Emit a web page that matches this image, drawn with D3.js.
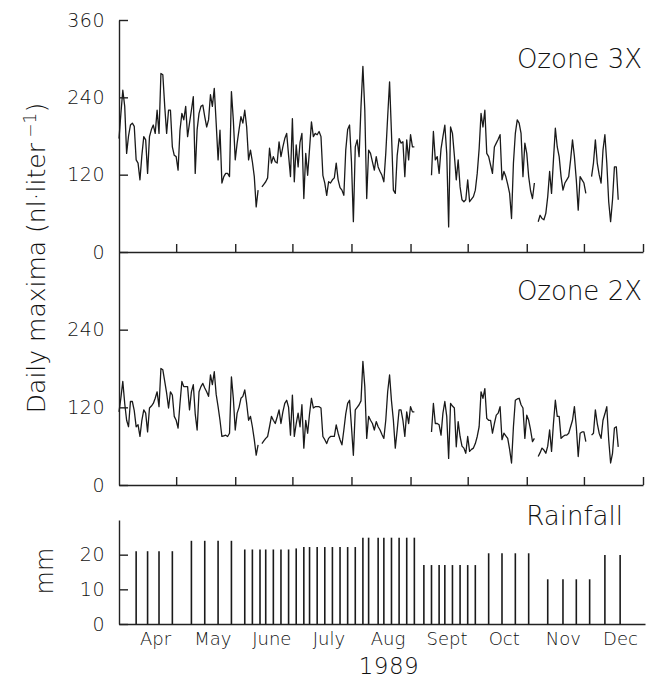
<!DOCTYPE html>
<html>
<head>
<meta charset="utf-8" />
<script src="https://d3js.org/d3.v7.min.js"></script>
<style>
  body { margin: 0; background: #fff; }
  svg text { font-family: "DejaVu Sans", sans-serif; font-weight: 200; fill: #111; }
  .axis path, .axis line { stroke: #222; stroke-width: 1.4; }
</style>
</head>
<body>
<script>
  // daily maxima, one value per day from April 1, 1989 (null = no data)
  var startDate = "1989-04-01";

  var ozone3x = [
    176, 215, 251, 226, 153, 180, 197, 200, 195, 143,
    138, 112, 150, 179, 174, 122, 179, 190, 197, 184,
    220, 184, 277, 275, 226, 184, 220, 220, 163, 150,
    148, 127, 189, 215, 205, 226, 179, 200, 220, 241,
    122, 190, 215, 226, 228, 210, 194, 205, 244, 226,
    254, 200, 143, 189, 107, 117, 122, 122, 117, 249,
    205, 143, 169, 190, 210, 200, 220, 194, 143, 158,
    140, 117, 70, 96, null, 101, 105, 109, 115, 161,
    138, 148, 140, 138, 171, 148, 163, 176, 184, 150,
    117, 207, 109, 166, 132, 170, 184, 83, 153, 119,
    160, 202, 179, 184, 182, 187, 179, 119, 107, 88,
    109, 107, 112, 115, 138, 112, 100, 96, 88, 158,
    190, 197, 140, 47, 163, 174, 148, 226, 288, 220,
    83, 158, 153, 140, 127, 148, 132, 125, 119, 109,
    153, 210, 264, 184, 96, 91, 150, 176, 169, 171,
    117, 174, 143, 182, 163, 163, null, null, null, null,
    null, null, null, null, 119, 187, 143, 148, 122, 160,
    179, 197, 153, 39, 194, 184, 150, 112, 143, 101,
    81, 78, 81, 112, 78, 82, 86, 96, 122, 160,
    215, 194, 220, 153, 148, 135, 122, 163, 169, 175,
    182, 112, 125, 117, 105, 91, 52, 138, 184, 205,
    200, 184, 117, 169, 153, 117, 95, 83, 107, null,
    47, 57, 52, 50, 60, 86, 125, 91, 143, 192,
    163, 148, 117, 96, 107, 112, 117, 143, 174, 148,
    112, 65, 117, 112, 107, 91, null, null, 117, 138,
    174, 138, 120, 107, 158, 182, 138, 78, 47, 81,
    132, 132, 81
  ];

  var ozone2x = [
    113, 135, 160, 126, 100, 90, 129, 129, 115, 90,
    93, 75, 100, 116, 111, 82, 119, 122, 126, 134,
    144, 121, 180, 178, 160, 142, 119, 144, 139, 106,
    100, 88, 126, 160, 152, 152, 152, 116, 144, 155,
    110, 85, 144, 152, 157, 150, 144, 137, 170, 155,
    175, 140, 121, 100, 75, 76, 77, 75, 80, 167,
    134, 85, 111, 120, 134, 137, 147, 126, 100, 106,
    90, 70, 46, 62, null, 64, 68, 72, 75, 90,
    106, 100, 95, 105, 116, 95, 113, 126, 131, 120,
    77, 139, 75, 95, 111, 90, 124, 57, 100, 80,
    110, 134, 119, 121, 121, 121, 119, 75, 70, 64,
    72, 75, 75, 75, 93, 80, 70, 62, 85, 110,
    126, 131, 90, 46, 116, 120, 124, 130, 191, 152,
    72, 106, 100, 95, 85, 98, 90, 85, 78, 72,
    100, 144, 170, 130, 100, 57, 85, 116, 116, 100,
    75, 113, 95, 121, 113, 113, null, null, null, null,
    null, null, null, null, 82, 126, 95, 95, 93, 77,
    111, 129, 106, 41, 126, 122, 119, 59, 98, 75,
    60, 57, 49, 75, 52, 55, 57, 64, 75, 90,
    144, 134, 149, 103, 100, 100, 80, 95, 108, 111,
    121, 70, 80, 76, 72, 55, 34, 90, 131, 133,
    134, 124, 119, 72, 108, 100, 85, 67, 72, null,
    44, 50, 57, 54, 49, 60, 85, 52, 95, 131,
    106, 106, 72, 75, 77, 77, 80, 90, 100, 121,
    90, 44, 80, 82, 82, 67, null, null, 77, 80,
    116, 95, 80, 72, 100, 110, 121, 70, 34, 49,
    88, 90, 59
  ];

  // rainfall events
  var rainDates = [
    "1989-04-10", "1989-04-16", "1989-04-22", "1989-04-29",
    "1989-05-09", "1989-05-16", "1989-05-23", "1989-05-30",
    "1989-06-06", "1989-06-10", "1989-06-14", "1989-06-17", "1989-06-21", "1989-06-25", "1989-06-29",
    "1989-07-03", "1989-07-07", "1989-07-10", "1989-07-14", "1989-07-18", "1989-07-22", "1989-07-26", "1989-07-30", "1989-08-03",
    "1989-08-07", "1989-08-10", "1989-08-15", "1989-08-18", "1989-08-22", "1989-08-26", "1989-08-30", "1989-09-03",
    "1989-09-08", "1989-09-12", "1989-09-16", "1989-09-19", "1989-09-23", "1989-09-27", "1989-10-01", "1989-10-05",
    "1989-10-12", "1989-10-19", "1989-10-26", "1989-11-02",
    "1989-11-12", "1989-11-20", "1989-11-27", "1989-12-04",
    "1989-12-12", "1989-12-20"
  ];
  var rainMm = [
    21, 21, 21, 21,
    24, 24, 24, 24,
    21.5, 21.5, 21.5, 21.5, 21.5, 21.5, 21.5,
    21.8, 22.2, 22.2, 22.2, 22.2, 22.2, 22.2, 22.2, 22.2,
    24.9, 24.9, 24.9, 24.9, 24.9, 24.9, 24.9, 24.9,
    17, 17, 17, 17, 17, 17, 17, 17,
    20.4, 20.4, 20.4, 20.4,
    12.9, 12.9, 12.9, 12.9,
    19.9, 19.9
  ];

  var monthLabels = ["Apr", "May", "June", "July", "Aug", "Sept", "Oct", "Nov", "Dec"];
  var ozoneTicks3x = [0, 120, 240, 360];
  var ozoneTicks2x = [0, 120, 240];
  var rainTicks = [0, 10, 20];

  //-------------------------------------------

  var w = 647, h = 681;
  var parse = d3.timeParse("%Y-%m-%d");
  var t0 = parse(startDate);

  var svg = d3.select("body").append("svg")
              .attr("width", w)
              .attr("height", h);

  var x = d3.scaleTime()
            .domain([t0, parse("1990-01-01")])
            .range([119, 643]);

  var y3 = d3.scaleLinear().domain([0, 360]).range([252, 20]);
  var y2 = d3.scaleLinear().domain([0, 360]).range([485, 252]);
  var yr = d3.scaleLinear().domain([0, 30]).range([624, 520]);

  var monthStarts = d3.timeMonth.range(t0, parse("1990-01-02"));

  function daily(values) {
    return values.map(function(v, i) { return { date: d3.timeDay.offset(t0, i), value: v }; });
  }

  function ozonePanel(values, y, ticks, label) {
    var g = svg.append("g");

    g.append("g")
     .attr("class", "axis")
     .attr("transform", "translate(0," + y.range()[0] + ")")
     .call(d3.axisBottom(x).tickValues(monthStarts.slice(1)).tickSizeInner(-8).tickSizeOuter(0).tickFormat(""));

    g.append("g")
     .attr("class", "axis")
     .attr("transform", "translate(" + x.range()[0] + ",0)")
     .call(d3.axisLeft(y).tickValues(ticks).tickSizeInner(-9).tickSizeOuter(0).tickPadding(14))
     .selectAll("text")
     .style("font-size", "19px")
     .style("letter-spacing", "0.5px");

    g.selectAll(".axis text").attr("fill", "#111");

    var line = d3.line()
                 .defined(function(d) { return d.value !== null; })
                 .x(function(d) { return x(d.date); })
                 .y(function(d) { return y(d.value); });

    g.append("path")
     .datum(daily(values))
     .attr("fill", "none")
     .attr("stroke", "#1a1a1a")
     .attr("stroke-width", 1.3)
     .attr("stroke-linejoin", "round")
     .attr("d", line);

    g.append("text")
     .attr("x", 642)
     .attr("y", y.range()[1] + 48)
     .attr("text-anchor", "end")
     .style("font-size", "26px")
     .text(label);
  }

  ozonePanel(ozone3x, y3, ozoneTicks3x, "Ozone 3X");
  ozonePanel(ozone2x, y2, ozoneTicks2x, "Ozone 2X");

  // rainfall panel
  var rain = rainDates.map(function(d, i) { return { date: parse(d), mm: rainMm[i] }; });

  svg.append("g")
     .attr("class", "axis")
     .attr("transform", "translate(0," + yr(0) + ")")
     .call(d3.axisBottom(x.copy().range([119, 645])).tickValues([]).tickSizeOuter(0));

  svg.append("g")
     .attr("class", "axis")
     .attr("transform", "translate(119,0)")
     .call(d3.axisLeft(yr).tickValues(rainTicks).tickSizeInner(-9).tickSizeOuter(0).tickPadding(14))
     .selectAll("text")
     .attr("fill", "#111")
     .style("font-size", "19px")
     .style("letter-spacing", "0.5px");

  svg.selectAll(".rain")
     .data(rain)
     .enter().append("line")
     .attr("class", "rain")
     .attr("x1", function(d) { return x(d.date); })
     .attr("x2", function(d) { return x(d.date); })
     .attr("y1", yr(0))
     .attr("y2", function(d) { return yr(d.mm); })
     .attr("stroke", "#1a1a1a")
     .attr("stroke-width", 1.6);

  svg.append("text")
     .attr("x", 623)
     .attr("y", 525)
     .attr("text-anchor", "end")
     .style("font-size", "26px")
     .text("Rainfall");

  // month labels
  svg.selectAll(".month")
     .data(monthLabels)
     .enter().append("text")
     .attr("class", "month")
     .attr("x", function(d, i) { return x(d3.timeDay.offset(monthStarts[i], 15)) + 8; })
     .attr("y", 645)
     .attr("text-anchor", "middle")
     .style("font-size", "18px")
     .text(function(d) { return d; });

  svg.append("text")
     .attr("x", 389)
     .attr("y", 674)
     .attr("text-anchor", "middle")
     .style("font-size", "23px")
     .style("letter-spacing", "0.5px")
     .text("1989");

  // axis titles
  svg.append("text")
     .attr("transform", "translate(45,258) rotate(-90)")
     .attr("text-anchor", "middle")
     .style("font-size", "25px")
     .html('Daily maxima (nl\u00b7liter<tspan dy="-9" font-size="17px">\u00a0\u22121</tspan><tspan dy="9">)</tspan>');

  svg.append("text")
     .attr("transform", "translate(53,571) rotate(-90)")
     .attr("text-anchor", "middle")
     .style("font-size", "24px")
     .text("mm");
</script>
</body>
</html>
